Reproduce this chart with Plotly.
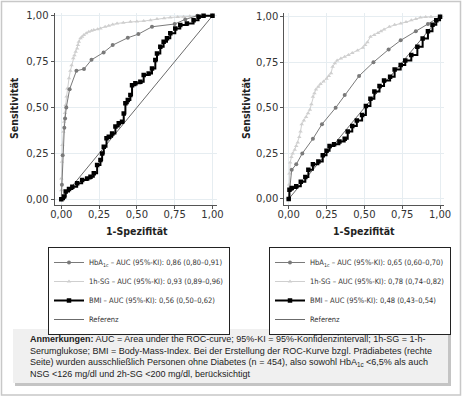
import plotly.graph_objects as go

# ---------------- data ----------------
tick_vals = [0, 0.25, 0.5, 0.75, 1.0]
tick_text = ["0,00", "0,25", "0,50", "0,75", "1,00"]

# Left panel (Diabetes)
L_hba_x = [0, 0.004, 0.009, 0.02, 0.025, 0.033, 0.055, 0.10, 0.15, 0.20, 0.28, 0.34, 0.44, 0.51, 0.60, 0.75, 0.82, 0.90, 1.0]
L_hba_y = [0, 0.08, 0.24, 0.39, 0.44, 0.50, 0.60, 0.70, 0.71, 0.76, 0.80, 0.84, 0.88, 0.90, 0.94, 0.955, 0.98, 1.0, 1.0]

L_sg_x = [0, 0, 0, 0.004, 0.007, 0.013, 0.018, 0.024, 0.029, 0.035, 0.040, 0.051, 0.060, 0.068, 0.079, 0.087, 0.095, 0.105, 0.110, 0.116, 0.127, 0.138, 0.149, 0.165, 0.182, 0.20, 0.215, 0.24, 0.259, 0.29, 0.314, 0.34, 0.369, 0.41, 0.457, 0.50, 0.545, 0.59, 0.633, 0.68, 0.721, 0.77, 0.809, 0.85, 0.897, 0.95, 1.0]
L_sg_y = [0, 0.05, 0.114, 0.205, 0.296, 0.368, 0.423, 0.47, 0.514, 0.56, 0.604, 0.659, 0.70, 0.731, 0.768, 0.785, 0.804, 0.822, 0.84, 0.858, 0.877, 0.886, 0.895, 0.905, 0.913, 0.918, 0.922, 0.927, 0.931, 0.94, 0.946, 0.952, 0.958, 0.962, 0.967, 0.969, 0.971, 0.976, 0.982, 0.987, 0.991, 0.993, 0.995, 0.997, 0.998, 1.0, 1.0]

L_bmi_x = [0, 0.018, 0.029, 0.051, 0.073, 0.105, 0.138, 0.171, 0.193, 0.215, 0.237, 0.259, 0.270, 0.281, 0.299, 0.314, 0.336, 0.358, 0.380, 0.402, 0.413, 0.424, 0.440, 0.457, 0.468, 0.490, 0.523, 0.545, 0.578, 0.600, 0.622, 0.633, 0.655, 0.677, 0.699, 0.721, 0.754, 0.787, 0.831, 0.875, 0.908, 0.941, 1.0]
L_bmi_y = [0, 0.015, 0.042, 0.056, 0.069, 0.087, 0.105, 0.114, 0.123, 0.142, 0.187, 0.214, 0.250, 0.287, 0.332, 0.341, 0.359, 0.396, 0.414, 0.423, 0.468, 0.523, 0.541, 0.568, 0.622, 0.632, 0.641, 0.677, 0.686, 0.713, 0.759, 0.795, 0.831, 0.858, 0.877, 0.904, 0.931, 0.949, 0.958, 0.976, 0.995, 1.0, 1.0]

# Right panel (Prädiabetes)
R_hba_x = [0, 0.02, 0.05, 0.09, 0.16, 0.22, 0.31, 0.37, 0.465, 0.56, 0.66, 0.74, 0.84, 0.92, 1.0]
R_hba_y = [0, 0.16, 0.19, 0.25, 0.33, 0.41, 0.50, 0.57, 0.675, 0.75, 0.82, 0.87, 0.92, 0.96, 1.0]

R_sg_x = [0, 0.003, 0.005, 0.01, 0.018, 0.026, 0.04, 0.05, 0.06, 0.07, 0.078, 0.086, 0.10, 0.115, 0.128, 0.14, 0.15, 0.16, 0.17, 0.18, 0.195, 0.21, 0.23, 0.25, 0.265, 0.28, 0.29, 0.305, 0.32, 0.345, 0.37, 0.395, 0.42, 0.455, 0.49, 0.505, 0.52, 0.54, 0.565, 0.59, 0.61, 0.63, 0.665, 0.70, 0.74, 0.775, 0.81, 0.84, 0.87, 0.905, 0.94, 1.0]
R_sg_y = [0, 0.08, 0.14, 0.20, 0.23, 0.25, 0.27, 0.29, 0.31, 0.34, 0.37, 0.41, 0.43, 0.45, 0.47, 0.49, 0.52, 0.56, 0.58, 0.60, 0.615, 0.63, 0.645, 0.66, 0.675, 0.69, 0.725, 0.745, 0.76, 0.77, 0.78, 0.79, 0.80, 0.815, 0.83, 0.845, 0.86, 0.89, 0.90, 0.91, 0.92, 0.93, 0.945, 0.955, 0.963, 0.97, 0.98, 0.987, 0.995, 0.998, 1.0, 1.0]

R_bmi_x = [0, 0.005, 0.02, 0.05, 0.08, 0.11, 0.13, 0.16, 0.196, 0.225, 0.25, 0.27, 0.30, 0.335, 0.37, 0.39, 0.42, 0.45, 0.485, 0.51, 0.54, 0.566, 0.60, 0.63, 0.67, 0.70, 0.74, 0.77, 0.81, 0.85, 0.885, 0.92, 0.95, 0.975, 1.0]
R_bmi_y = [0, 0.05, 0.06, 0.07, 0.095, 0.12, 0.16, 0.19, 0.205, 0.24, 0.265, 0.29, 0.30, 0.315, 0.33, 0.37, 0.40, 0.43, 0.46, 0.51, 0.55, 0.59, 0.62, 0.65, 0.67, 0.71, 0.735, 0.76, 0.79, 0.835, 0.88, 0.92, 0.955, 0.98, 1.0]

ref_x = [0, 1]
ref_y = [0, 1]

L_names = ["HbA<sub>1c</sub> – AUC (95%-KI): 0,86 (0,80–0,91)",
           "1h-SG – AUC (95%-KI): 0,93 (0,89–0,96)",
           "BMI – AUC (95%-KI): 0,56 (0,50–0,62)",
           "Referenz"]
R_names = ["HbA<sub>1c</sub> – AUC (95%-KI): 0,65 (0,60–0,70)",
           "1h-SG – AUC (95%-KI): 0,78 (0,74–0,82)",
           "BMI – AUC (95%-KI): 0,48 (0,43–0,54)",
           "Referenz"]

note_lines = [
    "<b>Anmerkungen:</b> AUC = Area under the ROC-curve; 95%-KI = 95%-Konfidenzintervall; 1h-SG = 1-h-",
    "Serumglukose; BMI = Body-Mass-Index. Bei der Erstellung der ROC-Kurve bzgl. Prädiabetes (rechte",
    "Seite) wurden ausschließlich Personen ohne Diabetes (n = 454), also sowohl HbA<sub>1c</sub> <6,5% als auch",
    "NSG <126 mg/dl und 2h-SG <200 mg/dl, berücksichtigt",
]

# ---------------- styles ----------------
C_HBA = "#7a7a7a"
C_SG = "#cfcfcf"
C_BMI = "#000000"
C_REF = "#6b6b6b"
NARROW = "Liberation Sans Narrow, DejaVu Sans Condensed, Liberation Sans, sans-serif"
TICKFONT = dict(family="DejaVu Sans, sans-serif", size=10, color="#333333")

fig = go.Figure()

def add_panel(xa, ya, leg, hx, hy, sx, sy, bx, by, names):
    fig.add_trace(go.Scatter(x=ref_x, y=ref_y, mode="lines", name=names[3],
                             line=dict(color=C_REF, width=1), xaxis=xa, yaxis=ya,
                             legend=leg, legendrank=4))
    fig.add_trace(go.Scatter(x=sx, y=sy, mode="lines+markers", name=names[1],
                             line=dict(color=C_SG, width=1),
                             marker=dict(symbol="triangle-up", size=4, color=C_SG),
                             xaxis=xa, yaxis=ya, legend=leg, legendrank=2))
    fig.add_trace(go.Scatter(x=hx, y=hy, mode="lines+markers", name=names[0],
                             line=dict(color=C_HBA, width=1),
                             marker=dict(symbol="circle", size=4, color=C_HBA),
                             xaxis=xa, yaxis=ya, legend=leg, legendrank=1))
    fig.add_trace(go.Scatter(x=bx, y=by, mode="lines+markers", name=names[2],
                             line=dict(color=C_BMI, width=2, shape="hv"),
                             marker=dict(symbol="square", size=4.5, color=C_BMI),
                             xaxis=xa, yaxis=ya, legend=leg, legendrank=3))

add_panel("x", "y", "legend", L_hba_x, L_hba_y, L_sg_x, L_sg_y, L_bmi_x, L_bmi_y, L_names)
add_panel("x2", "y2", "legend2", R_hba_x, R_hba_y, R_sg_x, R_sg_y, R_bmi_x, R_bmi_y, R_names)

W, H = 462, 400

def ax_common():
    return dict(tickvals=tick_vals, ticktext=tick_text, tickfont=TICKFONT,
                showline=True, linecolor="#555555", linewidth=1,
                ticks="outside", ticklen=3, tickcolor="#555555",
                showgrid=True, gridcolor="#e6edf1", gridwidth=1,
                zeroline=False, fixedrange=True)

ydom = [1 - 205 / H, 1 - 13 / H]
fig.update_layout(
    width=W, height=H, margin=dict(l=0, r=0, t=0, b=0, autoexpand=False),
    paper_bgcolor="white", plot_bgcolor="white",
    xaxis=dict(domain=[54.5 / W, 217 / W], range=[-0.045, 1.03], anchor="y",
               ticklabelstandoff=-3, **ax_common()),
    yaxis=dict(domain=ydom, range=[-0.031, 1.015], anchor="x", **ax_common()),
    xaxis2=dict(domain=[284.3 / W, 444.3 / W], range=[-0.029, 1.028], anchor="y2",
                ticklabelstandoff=-3, **ax_common()),
    yaxis2=dict(domain=ydom, range=[-0.033, 1.02], anchor="x2", **ax_common()),
    legend=dict(x=48 / W, y=1 - 247 / H, xanchor="left", yanchor="top",
                bordercolor="#222222", borderwidth=1, bgcolor="white",
                font=dict(family=NARROW, size=7.5, color="#333333"),
                itemwidth=30, tracegroupgap=0),
    legend2=dict(x=269 / W, y=1 - 247 / H, xanchor="left", yanchor="top",
                 bordercolor="#222222", borderwidth=1, bgcolor="white",
                 font=dict(family=NARROW, size=7.5, color="#333333"),
                 itemwidth=30, tracegroupgap=0),
    showlegend=True,
)

# axis titles
for xc in [14, 246]:
    fig.add_annotation(x=xc / W, y=1 - 108 / H, xref="paper", yref="paper",
                       xanchor="center", yanchor="middle",
                       text="<b>Sensitivität</b>", textangle=-90, showarrow=False,
                       font=dict(family=NARROW, size=10.5, color="#222222"))
for xc in [137, 364]:
    fig.add_annotation(x=xc / W, y=1 - 231 / H, xref="paper", yref="paper",
                       xanchor="center", yanchor="middle",
                       text="<b>1-Spezifität</b>", showarrow=False,
                       font=dict(family=NARROW, size=10.5, color="#222222"))

# outer frame
fig.add_shape(type="rect", xref="paper", yref="paper", x0=1.5 / W, x1=1 - 1.5 / W,
              y0=1 - 395 / H, y1=1 - 1.5 / H, line=dict(color="#c8c8c8", width=1.5), layer="below")
# note box shadow and box
fig.add_shape(type="rect", xref="paper", yref="paper", x0=15 / W, x1=451 / W,
              y0=1 - 386 / H, y1=1 - 332 / H, line=dict(width=0), fillcolor="#c4c4c4", layer="below")
fig.add_shape(type="rect", xref="paper", yref="paper", x0=13 / W, x1=448 / W,
              y0=1 - 383 / H, y1=1 - 329 / H, line=dict(width=0), fillcolor="#f0f0f0", layer="below")
fig.add_annotation(x=28 / W, y=1 - 356 / H, xref="paper", yref="paper",
                   xanchor="left", yanchor="middle", align="left", showarrow=False,
                   text="<br>".join(note_lines),
                   font=dict(family="Liberation Sans, Arial, sans-serif", size=9, color="#222222"))

fig.write_html("out.html", config={"displayModeBar": False},
               post_script="document.body.style.margin='0';document.body.style.overflow='hidden';")
